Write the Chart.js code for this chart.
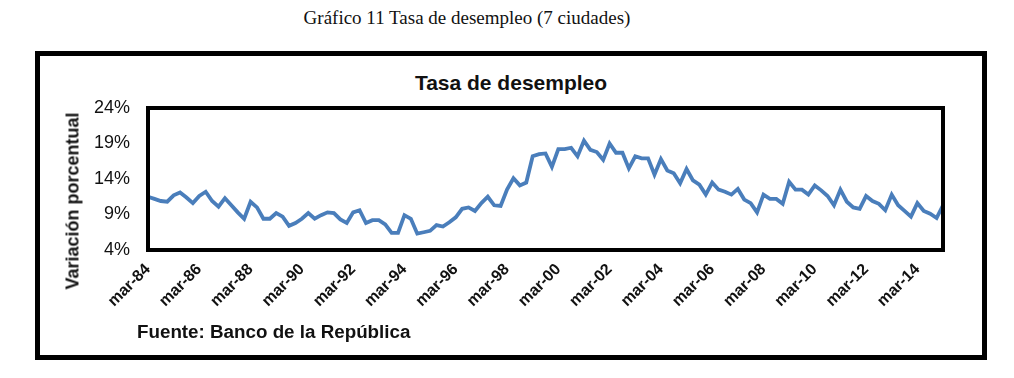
<!DOCTYPE html>
<html>
<head>
<meta charset="utf-8">
<script src="https://cdn.jsdelivr.net/npm/chart.js@4/dist/chart.umd.min.js"></script>
<style>
  body { margin: 0; background: #fff; width: 1014px; height: 378px; position: relative; overflow: hidden; }
  #caption { position: absolute; left: 0; width: 934px; top: 7px; text-align: center;
             font-family: "Liberation Serif", serif; font-size: 19px; color: #111; }
  #frame { position: absolute; left: 35px; top: 51px; width: 952px; height: 309px;
           border: 5px solid #000; box-sizing: border-box; }
  #title { position: absolute; left: 0; width: 1022px; top: 71px; text-align: center;
           font-family: Arial, "Liberation Sans", sans-serif; font-weight: bold; font-size: 21px; color: #111; }
  #ytitle { position: absolute; left: 73px; top: 201px; transform: translate(-50%, -50%) rotate(-90deg);
            white-space: nowrap; font-family: Arial, "Liberation Sans", sans-serif; font-weight: bold;
            font-size: 18px; color: #111; }
  #wrap { position: absolute; left: 0; top: 0; width: 1014px; height: 378px; }
  #source { position: absolute; left: 137px; top: 321px; font-family: Arial, "Liberation Sans", sans-serif;
            font-weight: bold; font-size: 18.8px; color: #111; }
</style>
</head>
<body>
<div id="caption">Gráfico 11 Tasa de desempleo (7 ciudades)</div>
<div id="frame"></div>
<div id="title">Tasa de desempleo</div>
<div id="wrap"><canvas id="unemploymentChart" width="1014" height="378"></canvas></div>
<div id="ytitle">Variación porcentual</div>
<div id="source">Fuente: Banco de la República</div>
<script>
// quarterly series, mar-84 .. mar-15
const quarterNames = ['mar', 'jun', 'sep', 'dic'];
const firstYear = 1984;
const lastYear = 2015;

const unemployment = [
    11.5, 11.2, 10.9, 10.8, 11.7, 12.1, 11.4, 10.6, 11.6, 12.2,
    10.9, 10.1, 11.3, 10.3, 9.3, 8.4, 10.8, 10.0, 8.4, 8.4,
    9.2, 8.7, 7.4, 7.8, 8.4, 9.2, 8.4, 8.9, 9.3, 9.2,
    8.3, 7.8, 9.3, 9.6, 7.8, 8.2, 8.2, 7.6, 6.4, 6.4,
    8.9, 8.4, 6.3, 6.5, 6.7, 7.5, 7.3, 7.9, 8.6, 9.8,
    10.0, 9.5, 10.6, 11.5, 10.3, 10.2, 12.5, 14.1, 13.1, 13.5,
    17.2, 17.5, 17.6, 15.7, 18.2, 18.2, 18.4, 17.2, 19.4, 18.1,
    17.8, 16.7, 19.0, 17.7, 17.7, 15.5, 17.2, 16.9, 16.9, 14.6,
    16.8, 15.2, 14.8, 13.4, 15.4, 13.8, 13.2, 11.8, 13.5, 12.5,
    12.2, 11.8, 12.6, 11.1, 10.6, 9.3, 11.8, 11.2, 11.2, 10.5,
    13.6, 12.5, 12.5, 11.8, 13.1, 12.4, 11.6, 10.3, 12.5, 10.8,
    10.0, 9.8, 11.6, 10.9, 10.5, 9.6, 11.8, 10.3, 9.5, 8.7,
    10.6, 9.5, 9.1, 8.5, 10.3
];

const yTicks = [4, 9, 14, 19, 24];

const labels = [];
for (let y = firstYear; y <= lastYear; y++) {
    quarterNames.forEach(q => labels.push(q + '-' + String(y).slice(2)));
}
labels.length = unemployment.length;

// thick black box round the plot area
const plotBox = {
    id: 'plotBox',
    afterDatasetsDraw(chart) {
        const a = chart.chartArea;
        const ctx = chart.ctx;
        ctx.save();
        ctx.strokeStyle = '#000';
        ctx.lineWidth = 4;
        ctx.strokeRect(a.left, a.top, a.right - a.left, a.bottom - a.top);
        ctx.restore();
    }
};

const ctx = document.getElementById('unemploymentChart').getContext('2d');
new Chart(ctx, {
    type: 'line',
    data: {
        labels: labels,
        datasets: [{
            label: 'Tasa de desempleo',
            data: unemployment,
            borderColor: '#4a7ebb',
            borderWidth: 3.8,
            pointRadius: 0,
            tension: 0,
            fill: false,
        }],
    },
    options: {
        responsive: false,
        animation: false,
        layout: { padding: { left: 60, right: 71, top: 108, bottom: 68 } },
        plugins: {
            legend: { display: false },
            tooltip: { enabled: false },
        },
        scales: {
            x: {
                grid: { display: false, drawTicks: false },
                border: { display: false },
                afterFit: scale => { scale.height = 60; },
                ticks: {
                    autoSkip: false,
                    minRotation: 45,
                    maxRotation: 45,
                    padding: 10,
                    color: '#111',
                    font: { family: 'Arial, "Liberation Sans", sans-serif', size: 16, weight: 'bold' },
                    callback: function(value, index) {
                        return index % 8 === 0 ? labels[index] : '';
                    },
                },
            },
            y: {
                min: 4,
                max: 24,
                grid: { display: false, drawTicks: false },
                border: { display: false },
                afterFit: scale => { scale.width = 88; },
                afterBuildTicks: scale => { scale.ticks = yTicks.map(v => ({ value: v })); },
                ticks: {
                    padding: 18,
                    color: '#111',
                    font: { family: 'Arial, "Liberation Sans", sans-serif', size: 18 },
                    callback: v => v + '%',
                },
            },
        },
    },
    plugins: [plotBox],
});
</script>
</body>
</html>
